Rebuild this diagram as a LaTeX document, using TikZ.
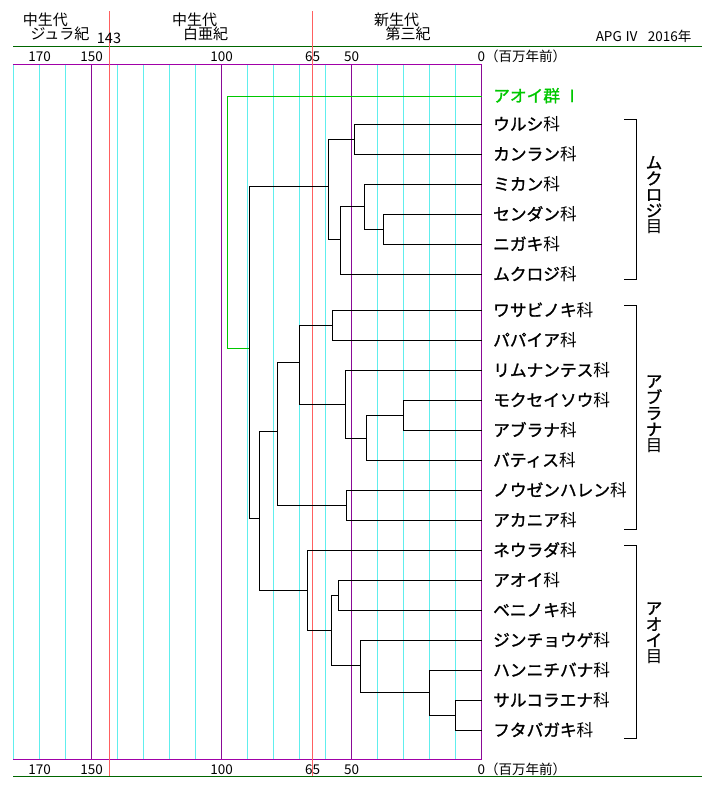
\documentclass[tikz,border=0pt]{standalone}
\usepackage{fontspec}
\newfontfamily\jp{Noto Sans CJK JP}
\newfontfamily\jpb[FakeBold=1.3]{Noto Sans CJK JP}
\definecolor{gridc}{HTML}{60EEEE}
\definecolor{purp}{HTML}{8A0A96}
\definecolor{magl}{HTML}{A000A8}
\definecolor{redl}{HTML}{FF6060}
\definecolor{dgreen}{HTML}{006600}
\definecolor{cgreen}{HTML}{00C800}
\newcommand{\ka}{{\jp 科}}
\newcommand{\me}{{\jp 目}}
\tikzset{
  tree/.style={draw=black,line width=1pt},
  leaf/.style={anchor=base west,inner sep=0pt,font=\jpb\fontsize{16.7}{16.7}\selectfont},
  hdr/.style={anchor=base,inner sep=0pt,font=\jp\fontsize{15}{15}\selectfont},
  num/.style={anchor=base,inner sep=0pt,font=\jp\fontsize{13.5}{13.5}\selectfont},
  grp/.style={align=center,inner sep=0pt,font=\jpb\fontsize{16.5}{16}\selectfont},
  brk/.style={draw=black,line width=1pt}
}
\begin{document}
\begin{tikzpicture}[x=1pt,y=-1pt]
\useasboundingbox (0,0) rectangle (720,798);
\fill[white] (0,0) rectangle (720,798);
% grid lines
\foreach \t in {180,170,160,140,130,120,110,90,80,70,60,40,30,20,10}
  \draw[gridc,line width=1pt] ({481.7-2.6*\t},64) -- ({481.7-2.6*\t},759.3);
\foreach \t in {150,100,50,0}
  \draw[purp,line width=1pt] ({481.7-2.6*\t},64) -- ({481.7-2.6*\t},759.3);
% horizontal axis lines
\draw[dgreen,line width=1pt] (13,46) -- (702,46);
\draw[magl,line width=1pt] (13,64) -- (481.7,64);
\draw[magl,line width=1pt] (13,759.3) -- (481.7,759.3);
\draw[dgreen,line width=1pt] (13,776) -- (702,776);
% red lines
\foreach \t in {143,65}
  \draw[redl,line width=1pt] ({481.7-2.6*\t},11) -- ({481.7-2.6*\t},776);
% header texts
\node[hdr] (h1) at (45.3,25.5) {中生代};
\node[hdr] (h2) at (60,39.5) {ジュラ紀};
\node[num,font=\jp\fontsize{14.5}{14.5}\selectfont] (h3) at (109,43) {143};
\node[hdr] (h4) at (194.5,25.5) {中生代};
\node[hdr] (h5) at (205.5,39.5) {白亜紀};
\node[hdr] (h6) at (396.5,25.5) {新生代};
\node[hdr] (h7) at (408,39.5) {第三紀};
\node[num] (h8) at (643.5,41) {APG Ⅳ\hspace{0.7em}2016年};
% axis labels
\foreach \v/\nm in {170/a,150/b,100/c,65/d,50/e}{
  \node[num] (top\nm) at ({481.7-2.6*\v},61) {\v};
  \node[num] (bot\nm) at ({481.7-2.6*\v},774.3) {\v};
}
\node[num,anchor=base west] (top0) at (477.5,61) {0（百万年前）};
\node[num,anchor=base west] (bot0) at (477.5,774.3) {0（百万年前）};
% leaves
\coordinate (t0) at (481.7,96);
\node[leaf,text=cgreen] (L0) at (493,102) {アオイ群 Ⅰ};
\foreach \i/\y/\txt in {1/124.3/ウルシ,2/154.3/カンラン,3/184.3/ミカン,4/214.3/センダン,5/244.3/ニガキ,6/274.3/ムクロジ,7/310.3/ワサビノキ,8/340.3/パパイア,9/370.3/リムナンテス,10/400.3/モクセイソウ,11/430.3/アブラナ,12/460.3/バティス,13/490.3/ノウゼンハレン,14/520.3/アカニア,15/550.3/ネウラダ,16/580.3/アオイ,17/610.3/ベニノキ,18/640.3/ジンチョウゲ,19/670.3/ハンニチバナ,20/700.3/サルコラエナ,21/730.3/フタバガキ}{
  \coordinate (t\i) at (481.7,\y);
  \node[leaf] (L\i) at (493,\y+6) {\txt\ka};
}
% internal nodes
\coordinate (a) at (354.3,139.3);
\coordinate (b) at (383.3,229.3);
\coordinate (c) at (364.3,206.8);
\coordinate (d) at (340.3,239.3);
\coordinate (e) at (328.3,186.3);
\coordinate (f) at (332.3,325.3);
\coordinate (g) at (403.3,415.3);
\coordinate (h) at (366.3,438.3);
\coordinate (i) at (345.3,404.3);
\coordinate (j) at (299.3,362);
\coordinate (k) at (346.3,505.3);
\coordinate (l) at (277.3,431.3);
\coordinate (m) at (338.3,595.3);
\coordinate (n) at (455.3,715.3);
\coordinate (o) at (429.3,692.3);
\coordinate (p) at (360.3,665.3);
\coordinate (q) at (331.3,630.3);
\coordinate (r) at (307.3,590.3);
\coordinate (s) at (259.3,518.3);
\coordinate (u) at (249.3,348.3);
\coordinate (v) at (227.3,348.3);
\foreach \pa/\ch in {a/t1,a/t2,b/t4,b/t5,c/t3,c/b,d/c,d/t6,e/a,e/d,f/t7,f/t8,g/t10,g/t11,h/g,h/t12,i/t9,i/h,j/f,j/i,k/t13,k/t14,l/j,l/k,m/t16,m/t17,n/t20,n/t21,o/t19,o/n,p/t18,p/o,q/m,q/p,r/t15,r/q,s/l,s/r,u/e,u/s}
  \draw[tree] (\pa) |- (\ch);
\draw[draw=cgreen,line width=1pt] (u) -- (v) |- (t0);
% brackets
\draw[brk] (624,119.3) -- (636,119.3) -- (636,279.3) -- (624,279.3);
\draw[brk] (624,305.3) -- (636,305.3) -- (636,529.3) -- (624,529.3);
\draw[brk] (624,545) -- (636,545) -- (636,738.3) -- (624,738.3);
\node[grp] (G1) at (654,195) {ム\\ク\\ロ\\ジ\\\me};
\node[grp] (G2) at (654,414) {ア\\ブ\\ラ\\ナ\\\me};
\node[grp] (G3) at (654,633) {ア\\オ\\イ\\\me};
\end{tikzpicture}
\end{document}
